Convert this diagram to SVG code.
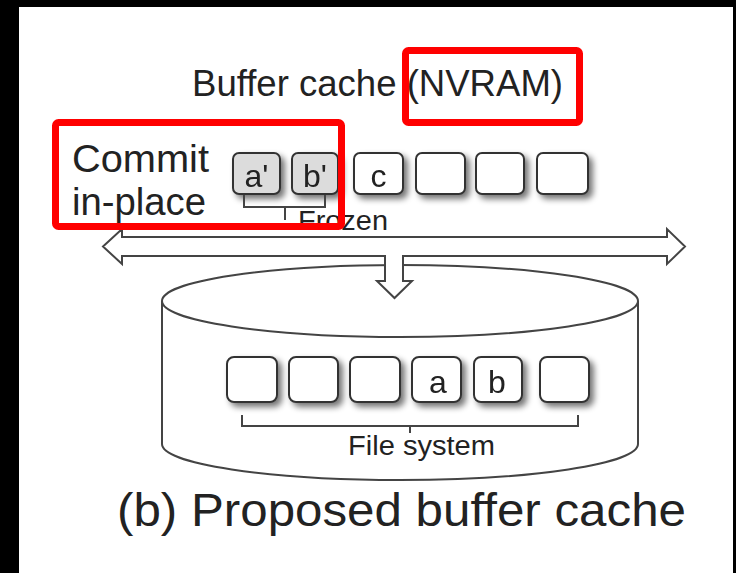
<svg xmlns="http://www.w3.org/2000/svg" width="736" height="573" viewBox="0 0 736 573">
  <defs>
    <filter id="shadow" x="-30%" y="-30%" width="170%" height="170%">
      <feGaussianBlur in="SourceAlpha" stdDeviation="3"/>
      <feOffset dx="4" dy="4" result="blur"/>
      <feComponentTransfer><feFuncA type="linear" slope="0.55"/></feComponentTransfer>
      <feMerge><feMergeNode/><feMergeNode in="SourceGraphic"/></feMerge>
    </filter>
  </defs>
  <style>
    text { font-family: "Liberation Sans", Arial, Helvetica, sans-serif; fill: #222; }
    .blk { fill: #fff; stroke: #333; stroke-width: 2; }
    .frozen { fill: #dcdcdc; }
    .lbl { font-size: 32px; text-anchor: middle; }
    .brace { fill: none; stroke: #444; stroke-width: 2; }
    .outline { fill: #fff; stroke: #444; stroke-width: 2; stroke-linejoin: miter; }
    .mark { fill: none; stroke: #ff0000; stroke-width: 7; }
  </style>

  <!-- frame -->
  <rect x="0" y="0" width="736" height="573" fill="#000"/>
  <rect x="19" y="7" width="714" height="566" fill="#fff"/>

  <!-- titles -->
  <text x="192" y="96" font-size="36" textLength="371" lengthAdjust="spacingAndGlyphs">Buffer cache (NVRAM)</text>
  <g id="commit-label">
    <text x="72" y="172" font-size="38" textLength="137" lengthAdjust="spacingAndGlyphs">Commit</text>
    <text x="72" y="215" font-size="38" textLength="134" lengthAdjust="spacingAndGlyphs">in-place</text>
  </g>

  <!-- disk (file system) -->
  <g id="disk">
    <path class="outline" d="M162,301 L162,444 A238,36 0 0 0 638,444 L638,301"/>
    <ellipse class="outline" cx="400" cy="301" rx="238" ry="36"/>
  </g>

  <!-- connectors: bus with branch down to disk -->
  <g id="connectors">
    <path class="outline" d="M103,246.5 L122,229 L122,237 L667,237 L667,229 L685,246.5 L667,264 L667,256 L403,256 L403,281 L412,281 L394.5,298 L377,281 L385,281 L385,256 L122,256 L122,264 Z"/>
  </g>

  <!-- NVRAM buffer blocks -->
  <g id="nvram-blocks" filter="url(#shadow)">
    <g id="blk-a-prime"><rect class="blk frozen" x="233" y="153" width="47" height="41" rx="6"/><text class="lbl" x="256.5" y="187">a'</text></g>
    <g id="blk-b-prime"><rect class="blk frozen" x="292" y="153" width="46" height="41" rx="6"/><text class="lbl" x="315" y="187">b'</text></g>
    <g id="blk-c"><rect class="blk" x="354" y="153" width="49" height="41" rx="6"/><text class="lbl" x="378.5" y="187">c</text></g>
    <g id="blk-n4"><rect class="blk" x="416" y="153" width="49" height="41" rx="6"/></g>
    <g id="blk-n5"><rect class="blk" x="476" y="153" width="48" height="41" rx="6"/></g>
    <g id="blk-n6"><rect class="blk" x="537" y="153" width="51" height="41" rx="6"/></g>
  </g>

  <!-- frozen bracket -->
  <g id="frozen-bracket">
    <path class="brace" d="M244,195 L244,207 L325,207 L325,195 M285,207 L285,220"/>
    <text x="298" y="230" font-size="28" textLength="90" lengthAdjust="spacingAndGlyphs">Frozen</text>
  </g>

  <!-- file system blocks -->
  <g id="fs-blocks" filter="url(#shadow)">
    <g id="fs-1"><rect class="blk" x="227" y="357" width="50" height="45" rx="7"/></g>
    <g id="fs-2"><rect class="blk" x="289" y="357" width="49" height="45" rx="7"/></g>
    <g id="fs-3"><rect class="blk" x="350" y="357" width="50" height="45" rx="7"/></g>
    <g id="fs-a"><rect class="blk" x="412" y="357" width="49" height="45" rx="7"/><text class="lbl" x="438" y="393">a</text></g>
    <g id="fs-b"><rect class="blk" x="474" y="357" width="48" height="45" rx="7"/><text class="lbl" x="497" y="393">b</text></g>
    <g id="fs-6"><rect class="blk" x="540" y="357" width="49" height="45" rx="7"/></g>
  </g>

  <!-- file system bracket -->
  <g id="fs-bracket">
    <path class="brace" d="M242,415 L242,426 L578,426 L578,415 M410,426 L410,433"/>
    <text x="348" y="455" font-size="27" textLength="147" lengthAdjust="spacingAndGlyphs">File system</text>
  </g>

  <!-- caption -->
  <text x="117" y="526" font-size="46" textLength="569" lengthAdjust="spacingAndGlyphs">(b) Proposed buffer cache</text>

  <!-- highlight marks -->
  <g id="highlights">
    <rect class="mark" x="405.5" y="50.5" width="174" height="72" rx="3"/>
    <rect class="mark" x="55.5" y="122.5" width="286" height="104" rx="3"/>
  </g>
</svg>
